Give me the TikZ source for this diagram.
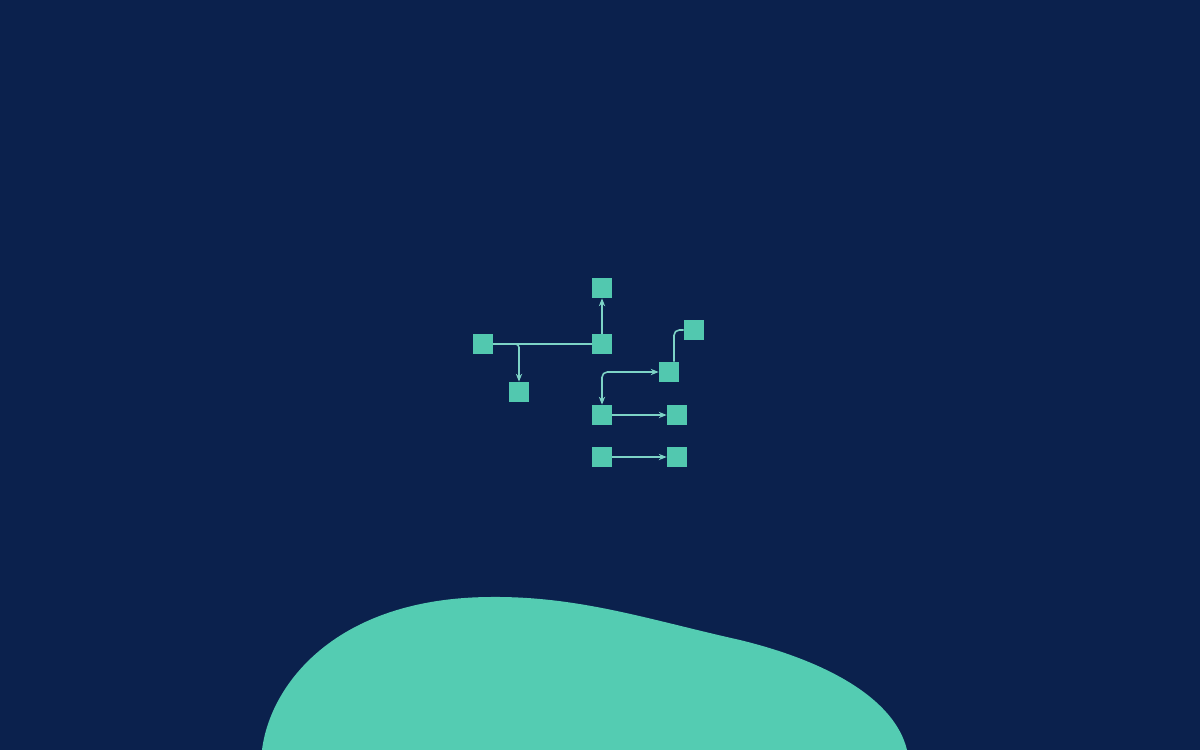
\documentclass[tikz,border=0pt]{standalone}
\usetikzlibrary{arrows.meta,calc}
\definecolor{bg}{HTML}{0B214D}
\definecolor{box}{HTML}{52C8AF}
\definecolor{blob}{HTML}{54CCB2}
\definecolor{wire}{HTML}{7DD3C6}
\begin{document}
\begin{tikzpicture}[x=0.02cm,y=-0.02cm,
  sq/.style={fill=box,draw=none,minimum size=0.4cm,inner sep=0pt},
  conn/.style={draw=wire,line width=0.9pt,arrows={-{Stealth[length=4.5pt,width=3.6pt]}}},
  plain/.style={draw=wire,line width=0.9pt},
  dbl/.style={draw=wire,line width=0.9pt,{Stealth[length=4.5pt,width=3.6pt]}-{Stealth[length=4.5pt,width=3.6pt]}}]
\fill[bg] (0,0) rectangle (1200,750);
\useasboundingbox (0,0) rectangle (1200,750);
\begin{scope}
\clip (0,0) rectangle (1200,750);
\fill[blob] (260,760) -- (262,750) .. controls (270,685) and (335,598) .. (490,597)
  .. controls (580,596) and (650,620) .. (740,640)
  .. controls (830,662) and (895,700) .. (907,750) -- (910,760) -- cycle;
\end{scope}
\node[sq] (A) at (483,344) {};
\node[sq] (B) at (519,392) {};
\node[sq] (C) at (602,344) {};
\node[sq] (D) at (602,288) {};
\node[sq] (E) at (694,330) {};
\node[sq] (F) at (669,372) {};
\node[sq] (G) at (602,415) {};
\node[sq] (H) at (677,415) {};
\node[sq] (I) at (602,457) {};
\node[sq] (J) at (677,457) {};
\draw[plain] (A.east) -- (C.west);
\draw[conn,rounded corners=2pt] (A.east) -| (B.north);
\draw[conn] (C.north) -- (D.south);
\draw[plain,rounded corners=3pt] ($(F.north)+(5,0)$) |- (E.west);
\draw[dbl,rounded corners=3pt] (G.north) |- (F.west);
\draw[conn] (G.east) -- (H.west);
\draw[conn] (I.east) -- (J.west);
\end{tikzpicture}
\end{document}
